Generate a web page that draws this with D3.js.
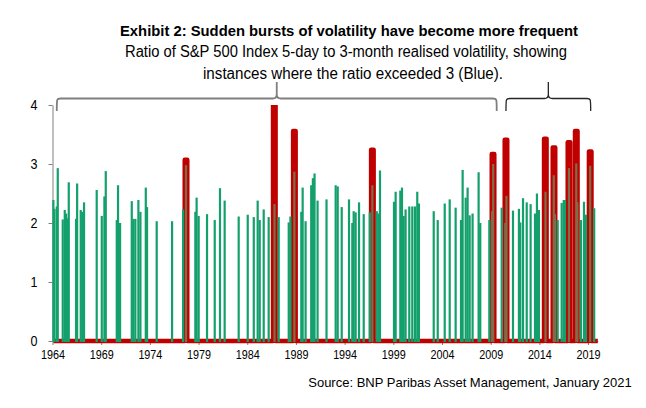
<!DOCTYPE html>
<html lang="en">
<head>
  <meta charset="UTF-8">
  <title>Sudden bursts of volatility</title>
  <script src="https://d3js.org/d3.v7.min.js"></script>
  <style>
    body { margin: 0; background: #fff; }
    svg { display: block; }
    text { font-family: "Liberation Sans Narrow", "Arial Narrow", "Liberation Sans", Arial, sans-serif; fill: #000; }
  </style>
</head>
<body>
  <div id="chart"></div>

  <script>
    // Ratio readings above 2 (green columns), placed by axis year
    const greenYears = [
      1964.09, 1964.2, 1964.44, 1964.54, 1965.05, 1965.26, 1965.4, 1965.53, 1965.67,
      1966.42, 1966.53, 1966.9, 1967.07, 1967.24, 1968.54, 1969.06, 1969.33, 1969.47,
      1970.6, 1970.73, 1970.94, 1972.14, 1972.31, 1972.51, 1972.82, 1973.03, 1973.58,
      1973.71, 1974.7, 1976.28, 1977.41, 1977.71, 1978.67, 1978.8, 1979.01, 1979.87,
      1980.66, 1981.2, 1981.68, 1983.12, 1984.05, 1984.67, 1985.07, 1985.28, 1985.69,
      1986.2, 1986.8, 1987.23, 1988.26, 1988.43, 1988.84, 1989.55, 1989.69, 1989.99,
      1990.57, 1990.74, 1990.91, 1991.22, 1992.14, 1993.08, 1993.29, 1993.7, 1994.45,
      1994.79, 1994.93, 1995.13, 1995.48, 1995.96, 1996.58, 1996.85, 1997.3, 1997.47,
      1997.63, 1999.07, 1999.24, 1999.72, 1999.89, 2000.06, 2000.26, 2000.64, 2000.95,
      2001.22, 2001.46, 2001.63, 2003.15, 2003.56, 2004.28, 2004.79, 2005.4, 2005.95,
      2006.12, 2006.43, 2006.63, 2006.84, 2007.14, 2007.76, 2007.93, 2008.86, 2009.15,
      2009.26, 2010.13, 2010.5, 2010.62, 2011.29, 2011.9, 2012.04, 2012.32, 2012.7,
      2013.1, 2013.55, 2013.75, 2013.96, 2014.63, 2015.48, 2015.6, 2015.88, 2016.29,
      2016.5, 2016.63, 2017.04, 2017.79, 2017.9, 2018.27, 2018.58, 2018.78, 2019.22,
      2019.63
    ];
    const greenValues = [
      2.39, 2.24, 2.28, 2.93, 2.06, 2.22, 2.16, 2.08, 2.69,
      2.07, 2.67, 2.22, 2.19, 2.35, 2.56, 2.12, 2.45, 2.88,
      2.05, 2.64, 2.0, 2.37, 2.07, 2.07, 2.39, 2.19, 2.6,
      2.27, 2.03, 2.03, 2.23, 2.98, 2.19, 2.43, 2.12, 2.15,
      2.05, 2.59, 2.38, 2.11, 2.14, 2.1, 2.38, 2.05, 2.23,
      2.1, 2.32, 2.1, 2.01, 2.11, 2.87, 2.19, 2.6, 2.03,
      2.64, 2.76, 2.84, 2.38, 2.4, 2.64, 2.62, 2.27, 2.4,
      2.0, 2.2, 2.18, 2.35, 2.15, 2.18, 2.64, 2.2, 2.16,
      2.89, 2.36, 2.53, 2.55, 2.6, 2.12, 2.23, 2.28, 2.28,
      2.28, 2.53, 2.33, 2.2, 2.05, 2.33, 2.4, 2.26, 2.05,
      2.9, 2.43, 2.6, 2.13, 2.16, 2.86, 2.0, 2.05, 2.2,
      3.0, 2.26, 2.0, 2.46, 2.21, 2.24, 2.01, 2.42, 2.35,
      2.32, 2.16, 2.5, 2.22, 2.53, 2.81, 2.15, 2.05, 2.34,
      2.39, 2.39, 2.93, 3.01, 2.35, 2.05, 2.36, 2.14, 2.97,
      2.25
    ];

    // Bursts where the ratio went above 3 (red series)
    const redYears = [1977.71, 1986.78, 1988.84, 1996.85, 2009.24, 2010.57, 2014.61, 2015.5, 2017.04, 2017.79, 2019.22];
    const redValues = [3.07, 4.6, 3.56, 3.24, 3.17, 3.41, 3.43, 3.28, 3.37, 3.56, 3.21];

    const xTicks = [1964, 1969, 1974, 1979, 1984, 1989, 1994, 1999, 2004, 2009, 2014, 2019];
    const yTicks = [0, 1, 2, 3, 4];

    // bracket annotations (start year, end year)
    const braceFrom = [1964.44, 2010.57];
    const braceTo = [2009.62, 2019.27];

    const width = 646;
    const height = 408;

    const svg = d3.select("#chart")
      .append("svg")
      .attr("width", width)
      .attr("height", height);

    const x = d3.scaleLinear().domain([1964, 2020]).range([52.5, 597.8]);
    const y = d3.scaleLinear().domain([0, 4]).range([341, 105]);

    // squeeze a text to a given width only when the font is too wide
    function fit(sel, w) {
      sel.each(function () {
        if (this.getComputedTextLength() > w) {
          d3.select(this).attr("textLength", w).attr("lengthAdjust", "spacingAndGlyphs");
        }
      });
    }

    // titles
    svg.append("text")
      .attr("x", 349).attr("y", 36)
      .attr("text-anchor", "middle")
      .style("font-weight", "bold").style("font-size", "15px")
      .text("Exhibit 2: Sudden bursts of volatility have become more frequent")
      .call(fit, 458);
    svg.append("text")
      .attr("x", 346).attr("y", 57)
      .attr("text-anchor", "middle")
      .style("font-size", "16px")
      .text("Ratio of S&P 500 Index 5-day to 3-month realised volatility, showing")
      .call(fit, 442);
    svg.append("text")
      .attr("x", 353).attr("y", 79)
      .attr("text-anchor", "middle")
      .style("font-size", "16px")
      .text("instances where the ratio exceeded 3 (Blue).")
      .call(fit, 300);
    svg.append("text")
      .attr("x", 470).attr("y", 387)
      .attr("text-anchor", "middle")
      .style("font-size", "13px")
      .text("Source: BNP Paribas Asset Management, January 2021")
      .call(fit, 331);

    // axes
    const xAxis = svg.append("g")
      .attr("transform", `translate(0,${y(0)})`)
      .call(d3.axisBottom(x).tickValues(xTicks).tickFormat(d3.format("d")).tickSize(4).tickSizeOuter(0));
    xAxis.selectAll("text").style("font-size", "12.5px").attr("dy", "0.9em").call(fit, 24);

    const yAxis = svg.append("g")
      .attr("transform", `translate(${x(1964)},0)`)
      .call(d3.axisLeft(y).tickValues(yTicks).tickFormat(d3.format("d")).tickSize(4).tickSizeOuter(0));
    yAxis.selectAll("text").style("font-size", "14.5px").attr("x", -15).call(fit, 7);

    svg.selectAll(".domain, .tick line").attr("stroke", "#808080");
    svg.selectAll(".tick text").attr("fill", "#000");

    // red burst line, clipped at the top of the axis
    svg.append("clipPath").attr("id", "plotClip")
      .append("rect")
      .attr("x", 0).attr("y", y(4))
      .attr("width", width).attr("height", y(0) - y(4) + 10);

    const half = 0.13;
    const redPoints = [[1964.1, 0]];
    redYears.forEach((t, i) => {
      redPoints.push([t - half, 0], [t - half, redValues[i]], [t + half, redValues[i]], [t + half, 0]);
    });
    redPoints.push([2020, 0]);

    const line = d3.line().x(d => x(d[0])).y(d => y(d[1]));

    svg.append("path")
      .attr("clip-path", "url(#plotClip)")
      .attr("d", line(redPoints))
      .attr("fill", "none")
      .attr("stroke", "#c00000")
      .attr("stroke-width", 4.5)
      .attr("stroke-linejoin", "round");

    // green columns; those sitting inside a red burst look olive
    const greenData = greenYears.map((t, i) => ({ year: t, value: greenValues[i] }));
    const inBurst = t => redYears.some(r => Math.abs(r - t) < 0.2);

    svg.selectAll("rect.bar")
      .data(greenData)
      .enter()
      .append("rect")
      .attr("class", "bar")
      .attr("x", d => x(d.year) - 1.1)
      .attr("width", 2.2)
      .attr("y", d => y(d.value))
      .attr("height", d => y(0) - y(d.value) + 1)
      .attr("fill", d => inBurst(d.year) ? "#7e6e48" : "#13a06c");

    // curly brackets above the chart
    const braceY = 98.5, braceEnd = 111, braceTop = 82;
    function bracePath(a, b) {
      const x0 = x(a), x1 = x(b), xc = (x0 + x1) / 2;
      return `M${x0},${braceEnd} C${x0},${braceY} ${x0},${braceY} ${x0 + 4},${braceY}` +
        ` L${xc - 4},${braceY} Q${xc},${braceY} ${xc},${braceY - 4} L${xc},${braceTop}` +
        ` M${xc},${braceY - 4} Q${xc},${braceY} ${xc + 4},${braceY}` +
        ` L${x1 - 4},${braceY} C${x1},${braceY} ${x1},${braceY} ${x1},${braceEnd}`;
    }
    const braceColor = ["#7f7f7f", "#262626"];
    const braceWidth = [1.8, 1.3];
    braceFrom.forEach((a, i) => {
      svg.append("path")
        .attr("d", bracePath(a, braceTo[i]))
        .attr("fill", "none")
        .attr("stroke", braceColor[i])
        .attr("stroke-width", braceWidth[i]);
    });
  </script>
</body>
</html>
